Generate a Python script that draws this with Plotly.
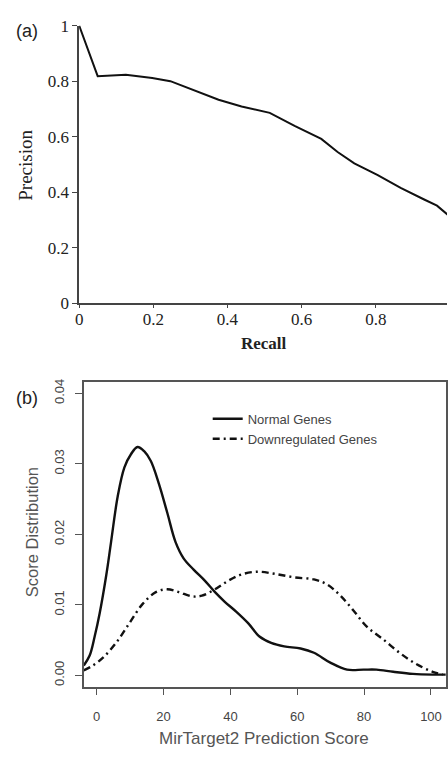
import plotly.graph_objects as go

# ---------- Panel (a): precision-recall ----------
recall = [0.0, 0.05, 0.126, 0.197, 0.246, 0.296, 0.376, 0.438, 0.514, 0.581,
          0.653, 0.697, 0.742, 0.804, 0.867, 0.929, 0.965, 0.996]
precision = [1.0, 0.818, 0.823, 0.811, 0.80, 0.774, 0.733, 0.709, 0.686, 0.639,
             0.592, 0.545, 0.504, 0.463, 0.416, 0.375, 0.352, 0.317]
a_xticks = [0, 0.2, 0.4, 0.6, 0.8]
a_xticklabels = ["0", "0.2", "0.4", "0.6", "0.8"]
a_yticks = [0, 0.2, 0.4, 0.6, 0.8, 1.0]
a_yticklabels = ["0", "0.2", "0.4", "0.6", "0.8", "1"]

# ---------- Panel (b): score densities ----------
normal_x = [-3.85, -2.1, -0.6, 0.9, 2.9, 4.3, 6.3, 8.3, 10.3, 12.2, 14.2, 16.2,
            18.6, 21.1, 23.6, 26.0, 29.0, 32.4, 35.4, 38.4, 41.8, 45.3, 48.7,
            52.2, 56.1, 61.0, 65.0, 69.9, 74.9, 79.8, 83.7, 88.7, 94.6, 100.5, 104.4]
normal_y = [0.0014, 0.0028, 0.0055, 0.0088, 0.0143, 0.0189, 0.0254, 0.0295, 0.0314,
            0.0324, 0.0318, 0.0304, 0.0272, 0.0231, 0.0189, 0.0166, 0.0150, 0.0134,
            0.0118, 0.0104, 0.0090, 0.0074, 0.0055, 0.0046, 0.0041, 0.0038, 0.0032,
            0.0018, 0.0008, 0.0008, 0.0008, 0.0005, 0.0002, 0.0001, 0.0001]
down_x = [-3.85, -1.1, 1.9, 5.8, 9.8, 13.7, 17.7, 21.1, 24.6, 28.5, 31.5, 35.4,
          39.3, 43.3, 48.2, 53.2, 59.1, 65.0, 68.9, 72.9, 76.8, 80.8, 85.7, 90.6,
          95.6, 100.5, 103.5]
down_y = [0.0007, 0.0014, 0.0025, 0.0046, 0.0074, 0.0101, 0.0118, 0.0122, 0.0118,
          0.0112, 0.0113, 0.0122, 0.0134, 0.0143, 0.0147, 0.0144, 0.0139, 0.0136,
          0.0129, 0.0113, 0.0092, 0.0069, 0.0051, 0.0032, 0.0016, 0.0005, 0.0001]
b_xticks = [0, 20, 40, 60, 80, 100]
b_yticks = [0.00, 0.01, 0.02, 0.03, 0.04]
b_yticklabels = ["0.00", "0.01", "0.02", "0.03", "0.04"]
series_names = ["Normal Genes", "Downregulated Genes"]

W, H = 448, 758
def px_x(p): return p / W
def px_y(p): return 1 - p / H

fig = go.Figure()
fig.add_trace(go.Scatter(x=recall, y=precision, mode="lines",
                         line=dict(color="#111111", width=2), showlegend=False,
                         xaxis="x", yaxis="y"))
fig.add_trace(go.Scatter(x=normal_x, y=normal_y, mode="lines", name=series_names[0],
                         line=dict(color="#111111", width=2.4, shape="spline"),
                         xaxis="x2", yaxis="y2"))
fig.add_trace(go.Scatter(x=down_x, y=down_y, mode="lines", name=series_names[1],
                         line=dict(color="#111111", width=2.4, shape="spline",
                                   dash="7px,4px,2px,4px"),
                         xaxis="x2", yaxis="y2"))

serif = "Liberation Serif, Times New Roman, serif"
sans = "Liberation Sans, Arial, sans-serif"

fig.update_layout(
    width=W, height=H, margin=dict(l=0, r=0, t=0, b=0),
    paper_bgcolor="white", plot_bgcolor="white",
    showlegend=True,
    legend=dict(x=px_x(206), y=px_y(405), xanchor="left", yanchor="top",
                bgcolor="rgba(0,0,0,0)", font=dict(family=sans, size=13, color="#444"),
                tracegroupgap=0),
    xaxis=dict(domain=[px_x(76), 1.0], range=[0, 0.992], tickvals=a_xticks,
               ticktext=a_xticklabels, showgrid=False, zeroline=False,
               showline=True, linecolor="#444", linewidth=1.5,
               ticks="outside", ticklen=3, tickcolor="#444", ticklabelstandoff=-4,
               tickfont=dict(family=serif, size=17, color="#222"), anchor="y"),
    yaxis=dict(domain=[px_y(302), px_y(17)], range=[0, 1.0], tickvals=a_yticks,
               ticktext=a_yticklabels, showgrid=False, zeroline=False,
               showline=True, linecolor="#444", linewidth=1.5,
               ticks="outside", ticklen=5, tickcolor="#444",
               tickfont=dict(family=serif, size=17, color="#222"), anchor="x"),
    xaxis2=dict(domain=[px_x(80.7), px_x(447)], range=[-3.85, 104.5], tickvals=b_xticks,
                showgrid=False, zeroline=False, showline=True, mirror=True,
                linecolor="#555", linewidth=1.5, ticks="outside", ticklen=7,
                tickcolor="#555", ticklabelstandoff=10,
                tickfont=dict(family=sans, size=13, color="#444"),
                anchor="y2"),
    yaxis2=dict(domain=[px_y(695), px_y(382.7)], range=[-0.0016, 0.0416],
                tickvals=b_yticks, ticktext=b_yticklabels, tickangle=-90,
                showgrid=False, zeroline=False, showline=True, mirror=True,
                linecolor="#555", linewidth=1.5, ticks="outside", ticklen=7,
                tickcolor="#555", ticklabelstandoff=6,
                tickfont=dict(family=sans, size=13, color="#444"),
                anchor="x2"),
)

ann = [
    dict(text="(a)", x=px_x(23), y=px_y(23), font=dict(family=sans, size=18, color="#222")),
    dict(text="(b)", x=px_x(23), y=px_y(399), font=dict(family=sans, size=18, color="#222")),
    dict(text="Precision", x=px_x(22), y=px_y(160), textangle=-90,
         font=dict(family=serif, size=19, color="#222")),
    dict(text="<b>Recall</b>", x=px_x(263), y=px_y(343),
         font=dict(family=serif, size=17, color="#222")),
    dict(text="Score Distribution", x=px_x(28), y=px_y(537), textangle=-90,
         font=dict(family=sans, size=16.5, color="#555")),
    dict(text="MirTarget2 Prediction Score", x=px_x(263), y=px_y(748),
         font=dict(family=sans, size=17, color="#555")),
]
for a in ann:
    a.update(xref="paper", yref="paper", showarrow=False, xanchor="center", yanchor="middle")
    fig.add_annotation(**a)

fig.write_html("out.html", config={"displayModeBar": False},
               post_script="document.body.style.margin='0';document.body.style.overflow='hidden';")
